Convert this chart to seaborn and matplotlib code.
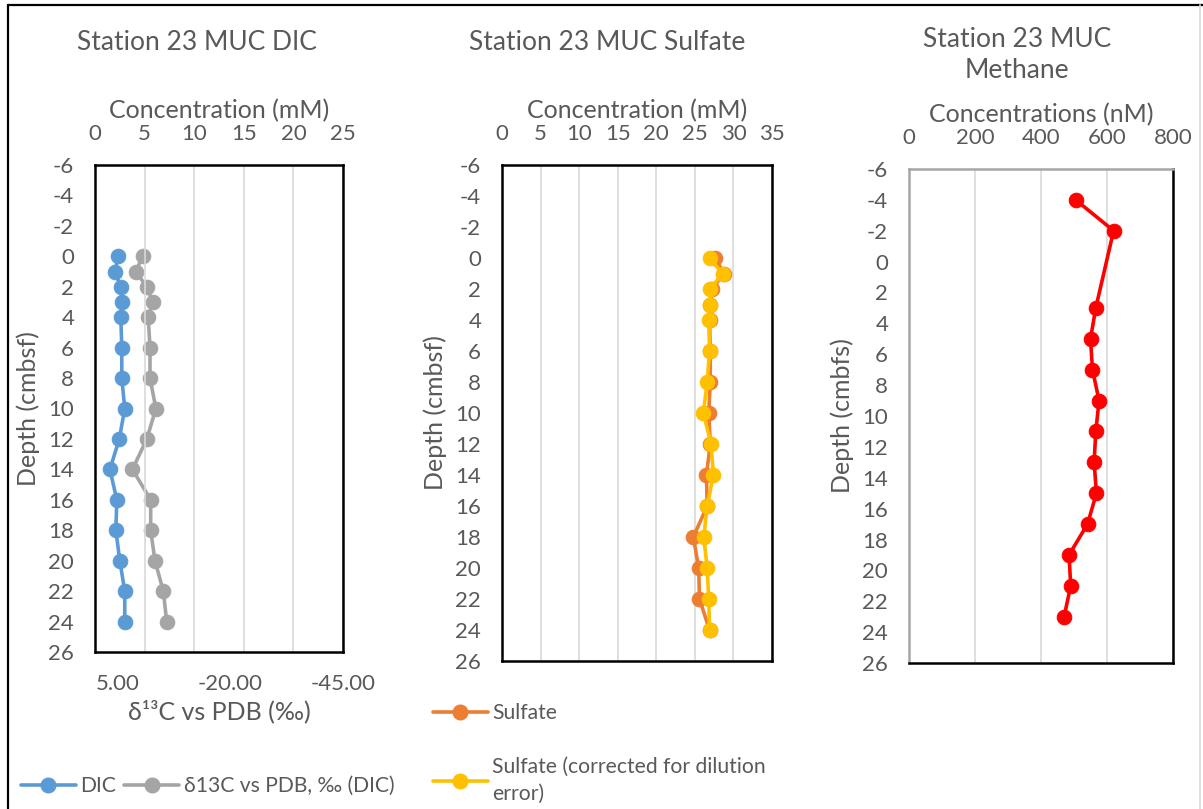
import numpy as np
import pandas as pd
import matplotlib
matplotlib.use("Agg")
import matplotlib.pyplot as plt
from matplotlib.lines import Line2D
import seaborn as sns

# ---------------- data ----------------
dic_depth = [0, 1, 2, 3, 4, 6, 8, 10, 12, 14, 16, 18, 20, 22, 24]
dic_conc = [2.35, 2.0, 2.6, 2.75, 2.6, 2.7, 2.7, 3.0, 2.45, 1.5, 2.2, 2.1, 2.5, 3.0, 3.0]
d13c = [-0.6, 1.0, -1.5, -2.8, -1.8, -2.2, -2.2, -3.5, -1.5, 1.7, -2.35, -2.35, -3.3, -5.15, -5.9]

sulf_depth = [0, 1, 2, 3, 4, 6, 8, 10, 12, 14, 16, 18, 20, 22, 24]
sulfate = [27.6, 28.8, 27.2, 27.0, 26.9, 27.0, 27.0, 26.8, 27.0, 26.5, 26.6, 24.8, 25.5, 25.6, 26.9]
sulfate_corr = [26.9, 28.6, 27.0, 26.95, 26.8, 26.9, 26.6, 26.1, 27.1, 27.4, 26.6, 26.15, 26.6, 26.8, 26.9]

ch4_depth = [-4, -2, 3, 5, 7, 9, 11, 13, 15, 17, 19, 21, 23]
methane = [505, 620, 566, 550, 556, 576, 566, 561, 568, 541, 485, 490, 470]

titles = ["Station 23 MUC DIC", "Station 23 MUC Sulfate", "Station 23 MUC\nMethane"]
xlabels = ["Concentration (mM)", "Concentration (mM)", "Concentrations (nM)"]
ylabels = ["Depth (cmbsf)", "Depth (cmbsf)", "Depth (cmbfs)"]
depth_ticks = list(range(-6, 27, 2))
iso_ticks = [5, -20, -45]

# ---------------- style ----------------
sns.set_theme(style="white")
plt.rcParams['font.family'] = ['Lato', 'DejaVu Sans']
plt.rcParams['axes.unicode_minus'] = False
TXT = '#595959'
GRID = '#D9D9D9'
C_DIC = '#5B9BD5'
C_ISO = '#A5A5A5'
C_SUL = '#ED7D31'
C_COR = '#FFC000'
C_CH4 = '#FF0000'
FS_T = 19
FS_L = 18
FS_K = 16
FS_G = 15.2
LW = 2.6
MS = 10.5

W, H = 1203, 809
fig = plt.figure(figsize=(W / 100, H / 100), dpi=100)
fig.patch.set_facecolor('white')


def rect(l, t, r, b):
    return [l / W, 1 - b / H, (r - l) / W, (b - t) / H]


def style_axes(ax, xmax, xstep, ylab, xlab):
    ax.set_ylim(26, -6)
    ax.set_yticks(depth_ticks)
    ax.set_xlim(0, xmax)
    ax.set_xticks(np.arange(0, xmax + 0.1, xstep))
    ax.xaxis.tick_top()
    ax.xaxis.set_label_position('top')
    ax.tick_params(axis='both', length=0, labelsize=FS_K, labelcolor=TXT)
    ax.tick_params(axis='y', pad=15)
    ax.tick_params(axis='x', pad=15)
    ax.grid(axis='x', color=GRID, linewidth=1.2)
    ax.grid(axis='y', visible=False)
    ax.set_axisbelow(True)
    ax.set_xlabel(xlab, fontsize=FS_L, color=TXT, labelpad=4)
    ax.set_ylabel(ylab, fontsize=FS_L, color=TXT, labelpad=6)
    for s in ax.spines.values():
        s.set_visible(True)
        s.set_color('black')
        s.set_linewidth(1.8)


def draw(ax, x, y, color, label, z=3):
    df = pd.DataFrame({'x': x, 'y': y})
    sns.lineplot(data=df, x='x', y='y', ax=ax, sort=False, estimator=None,
                 color=color, linewidth=LW, marker='o', markersize=MS,
                 markeredgecolor=color, label=label, legend=False, zorder=z)


# ---- panel 1: DIC ----
ax1 = fig.add_axes(rect(95, 165, 343, 652))
ax1b = ax1.twiny()
draw(ax1, dic_conc, dic_depth, C_DIC, 'DIC', 4)
draw(ax1b, d13c, dic_depth, C_ISO, 'iso', 3)
style_axes(ax1, 25, 5, ylabels[0], xlabels[0])
ax1b.set_xlim(10, -45)
ax1b.set_xticks(iso_ticks)
ax1b.set_xticklabels([f"{v:.2f}" for v in iso_ticks])
ax1b.xaxis.tick_bottom()
ax1b.xaxis.set_label_position('bottom')
ax1b.tick_params(axis='x', length=0, labelsize=FS_K, labelcolor=TXT, pad=16)
ax1b.set_xlabel('δ¹³C vs PDB (‰)', fontsize=FS_L, color=TXT, labelpad=4)
ax1b.set_ylabel('')
ax1b.set_ylim(26, -6)
ax1b.grid(False)
ax1.set_zorder(ax1b.get_zorder() + 1)
ax1.patch.set_visible(False)
for s in ax1b.spines.values():
    s.set_visible(False)

# ---- panel 2: Sulfate ----
ax2 = fig.add_axes(rect(502, 165, 772, 661))
draw(ax2, sulfate, sulf_depth, C_SUL, 'Sulfate', 3)
draw(ax2, sulfate_corr, sulf_depth, C_COR, 'corr', 4)
style_axes(ax2, 35, 5, ylabels[1], xlabels[1])

# ---- panel 3: Methane ----
ax3 = fig.add_axes(rect(909, 169, 1173, 663))
draw(ax3, methane, ch4_depth, C_CH4, 'Methane', 3)
style_axes(ax3, 800, 200, ylabels[2], xlabels[2])
ax3.spines['left'].set_color('#A6A6A6')
ax3.spines['top'].set_color('#A6A6A6')

# ---- titles ----
fig.text(197 / W, 1 - 43 / H, titles[0], ha='center', va='center', fontsize=FS_T, color=TXT)
fig.text(607 / W, 1 - 43 / H, titles[1], ha='center', va='center', fontsize=FS_T, color=TXT)
fig.text(1017 / W, 1 - 55 / H, titles[2], ha='center', va='center', fontsize=FS_T, color=TXT,
         linespacing=1.3)

# ---- legends ----
def h(color):
    return Line2D([], [], color=color, linewidth=LW, marker='o', markersize=MS)

fig.legend([h(C_DIC), h(C_ISO)], ['DIC', 'δ13C vs PDB, ‰ (DIC)'], loc='center left',
           bbox_to_anchor=(2 / W, 1 - 786 / H), ncol=2, frameon=False, fontsize=FS_G,
           labelcolor=TXT, handlelength=2.6, handletextpad=0.2, columnspacing=0.4)
leg2 = fig.legend([h(C_SUL), h(C_COR)], ['Sulfate', 'Sulfate (corrected for dilution\nerror)'],
                  loc='upper left', bbox_to_anchor=(414 / W, 1 - 684 / H), ncol=1,
                  frameon=False, fontsize=FS_G, labelcolor=TXT, handlelength=2.6,
                  handletextpad=0.2, labelspacing=1.6)
for t in leg2.get_texts():
    t.set_linespacing(1.45)

# ---- outer border ----
fig.add_artist(Line2D([8 / W, 1], [1 - 5 / H, 1 - 5 / H], transform=fig.transFigure,
                      color='black', linewidth=1.6))
fig.add_artist(Line2D([8 / W, 8 / W], [1 - 5 / H, 0], transform=fig.transFigure,
                      color='black', linewidth=1.6))
fig.add_artist(Line2D([1200 / W, 1200 / W], [1 - 5 / H, 0], transform=fig.transFigure,
                      color='#D9D9D9', linewidth=1.2))

fig.savefig('out.png', dpi=100, facecolor='white')
